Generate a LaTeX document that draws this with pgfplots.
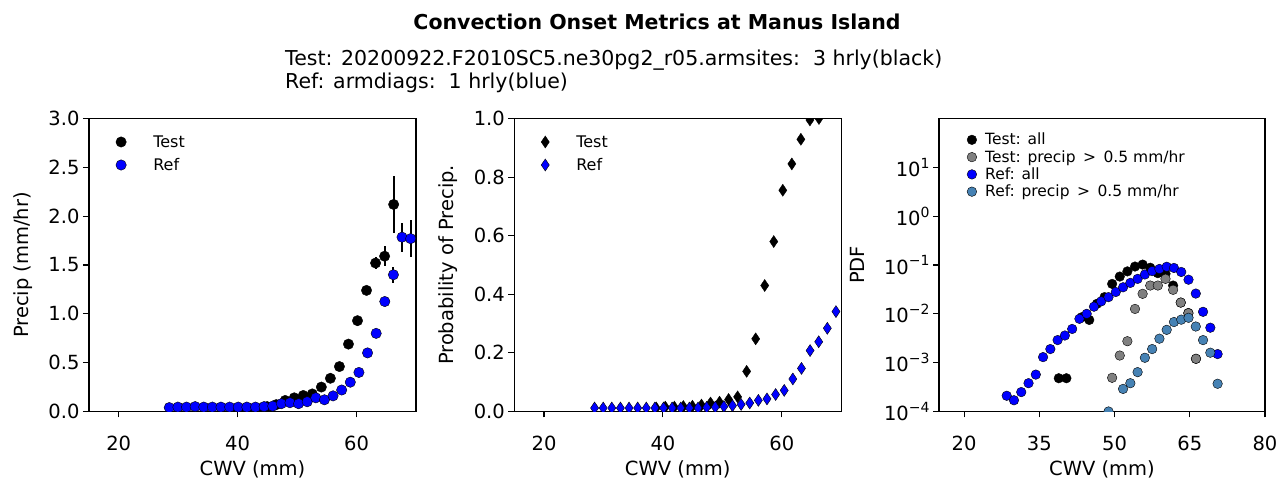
\documentclass[border=0pt]{standalone}
\usepackage{fontspec}
\setmainfont{DejaVu Sans}
\usepackage{pgfplots}
\pgfplotsset{compat=1.18}
\definecolor{mplblue}{RGB}{0,0,255}
\definecolor{mplgray}{RGB}{128,128,128}
\definecolor{steel}{RGB}{70,130,180}
\pgfplotsset{
  panel/.style={
    scale only axis, width=327pt, height=293pt, anchor=south west,
    axis line style={line width=1.1pt, black},
    every tick/.style={line width=1.1pt, black},
    tick align=outside, major tick length=6pt,
    xtick pos=left, ytick pos=left,
    ticklabel style={font=\fontsize{19.5}{23}\selectfont},
    xticklabel style={yshift=-15pt},
    label style={font=\fontsize{19.5}{23}\selectfont},
    /pgf/number format/assume math mode=true,
    xlabel={CWV (mm)},
    xlabel style={at={(axis description cs:0.5,-0.197)}, anchor=center},
    clip marker paths=true,
    legend cell align=left,
    legend image code/.code={\draw[##1] plot coordinates {(0pt,0pt)};},
  },
  lin/.style={
    yticklabel style={/pgf/number format/.cd, fixed, fixed zerofill, precision=1},
  },
  leg12/.style={
    legend style={at={(axis description cs:0.0817,0.943)}, anchor=north west,
      draw=none, fill=none, inner sep=0pt, row sep=9.6pt, column sep=27pt,
      nodes={inner sep=0pt}, font=\fontsize{16}{19}\selectfont},
  },
  dotB/.style={only marks, mark=*, mark size=5.2pt, mark options={draw=none, fill=black}},
  dotR/.style={only marks, mark=*, mark size=5.2pt, mark options={draw=none, fill=mplblue}},
  diaB/.style={only marks, mark=diamond*, mark size=6pt, mark options={draw=none, fill=black, xscale=0.9}},
  diaR/.style={only marks, mark=diamond*, mark size=6pt, mark options={draw=none, fill=mplblue, xscale=0.9}},
}
\begin{document}
\begin{tikzpicture}
\useasboundingbox (0pt,0pt) rectangle (1278pt,479pt);
\node[font=\bfseries\fontsize{20.5}{24}\selectfont] at (657pt,457pt) {Convection Onset Metrics at Manus Island};
\node[anchor=west, inner sep=0pt, font=\fontsize{20.5}{24}\selectfont] at (285pt,419pt) {Test: 20200922.F2010SC5.ne30pg2\_r05.armsites:\ \ 3 hrly(black)};
\node[anchor=west, inner sep=0pt, font=\fontsize{20.5}{24}\selectfont] at (285pt,396pt) {Ref: armdiags:\ \ 1 hrly(blue)};

% ---------------- Panel 1 ----------------
\begin{axis}[panel, lin, leg12, at={(89pt,67.5pt)},
  xmin=15, xmax=70, ymin=0, ymax=3,
  xtick={20,40,60}, ytick={0,0.5,1,1.5,2,2.5,3},
  ylabel={Precip (mm/hr)},
  ylabel style={at={(axis description cs:-0.202,0.5)}, anchor=center},
]
\addplot[forget plot, only marks, mark=none,
  error bars/.cd, y dir=both, y explicit, error mark=none,
  error bar style={line width=2pt, black}]
  coordinates {(63.20,1.52) +- (0,0.065) (64.72,1.59) +- (0,0.10) (66.24,2.12) +- (0,0.29)
               (66.20,1.40) +- (0,0.08) (67.65,1.785) +- (0,0.15) (69.10,1.77) +- (0,0.19)};
\addplot[dotB] coordinates {(38.88,0.010)(40.40,0.020)(41.92,0.020)(43.44,0.030)(44.96,0.050)(46.48,0.070)(48.00,0.113)(49.52,0.140)(51.04,0.164)(52.56,0.180)(54.08,0.250)(55.60,0.340)(57.12,0.460)(58.64,0.690)(60.16,0.930)(61.68,1.240)(63.20,1.520)(64.72,1.590)(66.24,2.120)};
\addlegendentry{Test}
\addplot[dotR] coordinates {(28.50,0.040)(29.95,0.045)(31.40,0.045)(32.85,0.050)(34.30,0.045)(35.75,0.045)(37.20,0.045)(38.65,0.045)(40.10,0.045)(41.55,0.045)(43.00,0.045)(44.45,0.050)(45.90,0.055)(47.35,0.080)(48.80,0.090)(50.25,0.080)(51.70,0.100)(53.15,0.140)(54.60,0.120)(56.05,0.160)(57.50,0.220)(58.95,0.300)(60.40,0.400)(61.85,0.600)(63.30,0.800)(64.75,1.126)(66.20,1.400)(67.65,1.785)(69.10,1.770)(70.35,1.090)};
\addlegendentry{Ref}
\end{axis}

% ---------------- Panel 2 ----------------
\begin{axis}[panel, lin, leg12, at={(514.3pt,67.5pt)},
  xmin=15, xmax=70, ymin=0, ymax=1,
  xtick={20,40,60}, ytick={0,0.2,0.4,0.6,0.8,1},
  ylabel={Probability of Precip.},
  ylabel style={at={(axis description cs:-0.203,0.5)}, anchor=center},
]
\addplot[diaB] coordinates {(38.88,0.012)(40.40,0.015)(41.92,0.015)(43.44,0.017)(44.96,0.018)(46.48,0.022)(48.00,0.029)(49.52,0.032)(51.04,0.041)(52.56,0.050)(54.08,0.137)(55.60,0.248)(57.12,0.430)(58.64,0.580)(60.16,0.755)(61.68,0.845)(63.20,0.929)(64.72,0.995)(66.24,1.000)};
\addlegendentry{Test}
\addplot[diaR] coordinates {(28.50,0.012)(29.95,0.012)(31.40,0.012)(32.85,0.012)(34.30,0.012)(35.75,0.012)(37.20,0.012)(38.65,0.012)(40.10,0.012)(41.55,0.012)(43.00,0.012)(44.45,0.012)(45.90,0.012)(47.35,0.014)(48.80,0.015)(50.25,0.017)(51.70,0.020)(53.15,0.024)(54.60,0.029)(56.05,0.038)(57.50,0.043)(58.95,0.058)(60.40,0.072)(61.85,0.111)(63.30,0.147)(64.75,0.208)(66.20,0.238)(67.65,0.284)(69.10,0.341)(70.35,0.284)};
\addlegendentry{Ref}
\end{axis}

% ---------------- Panel 3 ----------------
\begin{axis}[panel, at={(939pt,67.5pt)}, width=326pt,
  xmin=15, xmax=80, ymode=log, ymin=1e-4, ymax=1e2,
  xtick={20,35,50,65,80},
  ytick={1e-4,1e-3,1e-2,1e-1,1e0,1e1},
  yticklabels={10\raisebox{0.42em}{\fontsize{14}{16}\selectfont −4},
               10\raisebox{0.42em}{\fontsize{14}{16}\selectfont −3},
               10\raisebox{0.42em}{\fontsize{14}{16}\selectfont −2},
               10\raisebox{0.42em}{\fontsize{14}{16}\selectfont −1},
               10\raisebox{0.42em}{\fontsize{14}{16}\selectfont 0},
               10\raisebox{0.42em}{\fontsize{14}{16}\selectfont 1}},
  yminorticks=false,
  ylabel={PDF},
  ylabel style={at={(axis description cs:-0.25,0.5)}, anchor=center},
  legend style={at={(axis description cs:0.0856,0.9505)}, anchor=north west,
      draw=none, fill=none, inner sep=0pt, row sep=4pt, column sep=8.5pt,
      nodes={inner sep=0pt}, font=\fontsize{15.5}{18}\selectfont},
]
\addplot[only marks, mark=*, mark size=4.8pt, mark options={draw=none, fill=black}] coordinates {(38.88,4.8e-4)(40.40,4.8e-4)(43.44,8.5e-3)(44.96,7.5e-3)(46.48,0.016)(48.00,0.022)(49.52,0.041)(51.04,0.058)(52.56,0.074)(54.08,0.093)(55.60,0.102)(57.12,0.088)(58.64,0.068)(60.16,0.066)(61.68,0.038)(63.20,0.017)(64.72,0.0104)(66.24,0.0012)};
\addlegendentry{Test: all}
\addplot[only marks, mark=*, mark size=4.8pt, mark options={draw=none, fill=mplgray}] coordinates {(49.52,4.9e-4)(51.04,1.4e-3)(52.56,2.75e-3)(54.08,0.0126)(55.60,0.0257)(57.12,0.038)(58.64,0.038)(60.16,0.052)(61.68,0.031)(63.20,0.017)(64.72,0.0103)(66.24,0.0012)};
\addlegendentry{Test: precip \,>\, 0.5 mm/hr}
\addplot[only marks, mark=*, mark size=4.8pt, mark options={draw=none, fill=mplblue}] coordinates {(28.50,2.1e-4)(29.95,1.7e-4)(31.40,2.5e-4)(32.85,3.8e-4)(34.30,5.7e-4)(35.75,1.3e-3)(37.20,1.9e-3)(38.65,2.9e-3)(40.10,3.6e-3)(41.55,4.9e-3)(43.00,7.9e-3)(44.45,1.0e-2)(45.90,1.4e-2)(47.35,1.8e-2)(48.80,2.2e-2)(50.25,2.8e-2)(51.70,3.5e-2)(53.15,4.3e-2)(54.60,5.2e-2)(56.05,6.4e-2)(57.50,7.5e-2)(58.95,8.3e-2)(60.40,9.2e-2)(61.85,8.7e-2)(63.30,7.2e-2)(64.75,5.0e-2)(66.20,2.6e-2)(67.65,1.1e-2)(69.10,5.2e-3)(70.55,1.5e-3)};
\addlegendentry{Ref: all}
\addplot[only marks, mark=*, mark size=4.8pt, mark options={draw=none, fill=steel}] coordinates {(48.80,1.0e-4)(51.70,2.9e-4)(53.15,3.8e-4)(54.60,6.4e-4)(56.05,1.26e-3)(57.50,1.9e-3)(58.95,3.1e-3)(60.40,4.7e-3)(61.85,6.8e-3)(63.30,7.6e-3)(64.75,8.3e-3)(66.20,5.5e-3)(67.65,2.9e-3)(69.10,1.6e-3)(70.55,3.7e-4)};
\addlegendentry{Ref: precip \,>\, 0.5 mm/hr}
\end{axis}
\end{tikzpicture}
\end{document}
